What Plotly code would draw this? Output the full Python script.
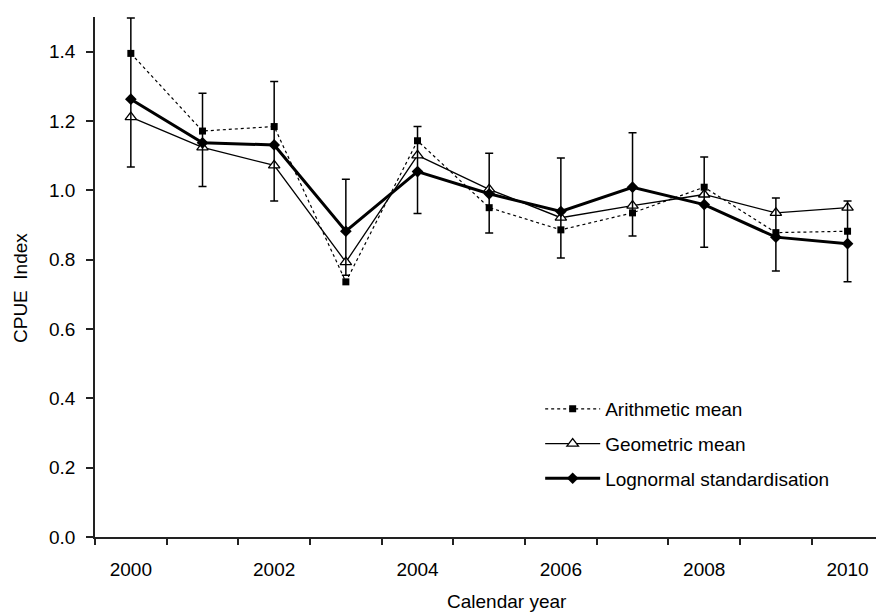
import plotly.graph_objects as go

years = [2000, 2001, 2002, 2003, 2004, 2005, 2006, 2007, 2008, 2009, 2010]
arithmetic = [1.395, 1.171, 1.184, 0.736, 1.143, 0.950, 0.886, 0.935, 1.009, 0.878, 0.882]
geometric = [1.211, 1.124, 1.072, 0.793, 1.101, 1.003, 0.921, 0.956, 0.988, 0.935, 0.950]
lognormal = [1.263, 1.137, 1.131, 0.882, 1.054, 0.990, 0.939, 1.009, 0.959, 0.865, 0.846]
ci_upper = [1.497, 1.280, 1.314, 1.032, 1.184, 1.107, 1.093, 1.166, 1.096, 0.978, 0.969]
ci_lower = [1.067, 1.011, 0.969, 0.755, 0.933, 0.877, 0.805, 0.868, 0.836, 0.767, 0.736]
y_ticks = [0.0, 0.2, 0.4, 0.6, 0.8, 1.0, 1.2, 1.4]
x_labels = [2000, 2002, 2004, 2006, 2008, 2010]

FONT = "Liberation Sans, Arial, sans-serif"
FS = 19

err_plus = [u - v for u, v in zip(ci_upper, lognormal)]
err_minus = [v - l for v, l in zip(lognormal, ci_lower)]

fig = go.Figure()
fig.add_trace(go.Scatter(
    x=years, y=arithmetic, name="Arithmetic mean", mode="lines+markers",
    line=dict(color="black", width=1.2, dash="3px,3px"),
    marker=dict(symbol="square", size=7, color="black"),
    legendgroup="a",
))
fig.add_trace(go.Scatter(
    x=years, y=geometric, name="Geometric mean", mode="lines+markers",
    line=dict(color="black", width=1.3),
    marker=dict(symbol="triangle-up", size=10, color="white",
                line=dict(color="black", width=1.3)),
    legendgroup="b",
))
fig.add_trace(go.Scatter(
    x=years, y=lognormal, name="Lognormal standardisation", mode="lines+markers",
    line=dict(color="black", width=3),
    marker=dict(symbol="diamond", size=9, color="black"),
    error_y=dict(type="data", symmetric=False, array=err_plus, arrayminus=err_minus,
                 color="black", thickness=1.5, width=4),
    legendgroup="c",
))

boundaries = [y + 0.5 for y in range(1999, 2010)]

fig.update_layout(
    width=876, height=613,
    margin=dict(l=95, r=0, t=17, b=76),
    paper_bgcolor="white", plot_bgcolor="white",
    font=dict(family=FONT, size=FS, color="black"),
    showlegend=True,
    legend=dict(x=0.57, y=(537 - 444) / 520, xanchor="left", yanchor="middle",
                bgcolor="rgba(0,0,0,0)", font=dict(size=FS),
                itemwidth=55, tracegroupgap=7),
    xaxis=dict(
        range=[1999.5, 2010.397], showgrid=False, zeroline=False,
        showline=True, linecolor="#222", linewidth=1.5,
        tickmode="array", tickvals=x_labels, ticktext=[str(v) for v in x_labels],
        ticks="", ticklabelstandoff=14,
        minor=dict(tickmode="array", tickvals=boundaries, ticks="outside",
                   ticklen=6, tickwidth=1.5, tickcolor="#222", showgrid=False),
    ),
    yaxis=dict(
        range=[0, 1.5], showgrid=False, zeroline=False,
        showline=True, linecolor="#222", linewidth=1.5,
        tickmode="array", tickvals=y_ticks, tickformat=".1f",
        ticks="outside", ticklen=7, tickwidth=1.5, tickcolor="#222",
        ticklabelstandoff=7,
    ),
    annotations=[
        dict(text="Calendar year", xref="paper", yref="paper",
             x=(507 - 95) / 781, y=-(601 - 537) / 520, xanchor="center", yanchor="middle",
             showarrow=False, font=dict(size=FS)),
        dict(text="CPUE  Index", xref="paper", yref="paper", textangle=-90,
             x=-(95 - 21) / 781, y=(537 - 288) / 520, xanchor="center", yanchor="middle",
             showarrow=False, font=dict(size=FS)),
    ],
)

fig.write_html("out.html")
